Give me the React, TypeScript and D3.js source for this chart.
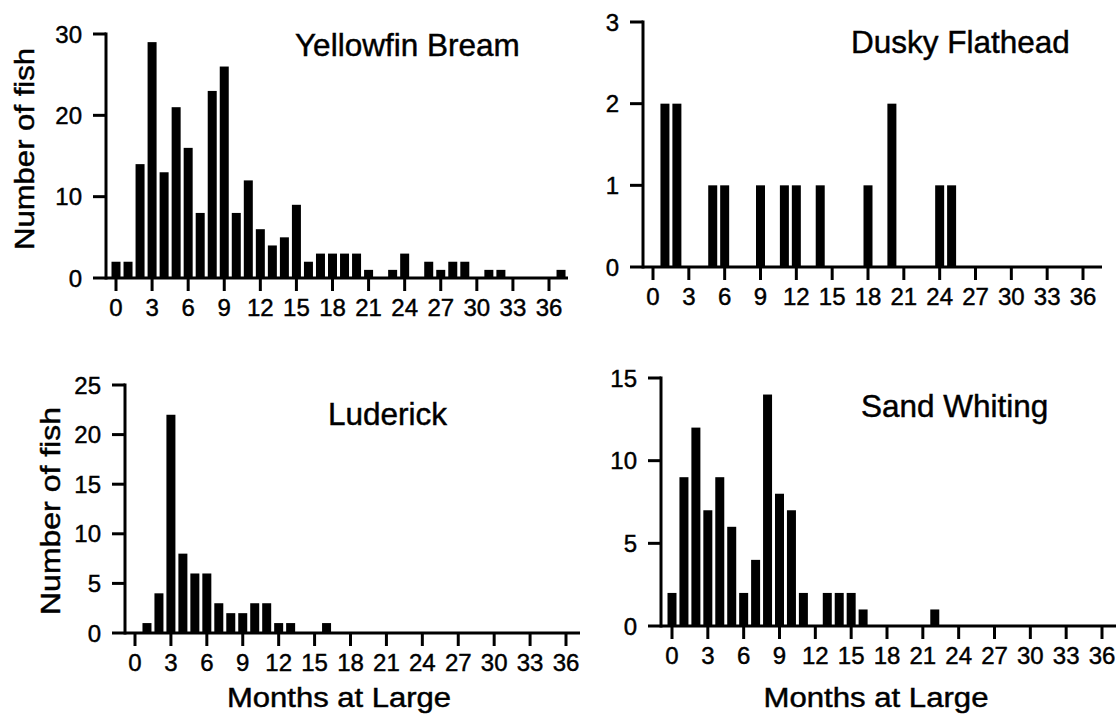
import React from "react";
import * as d3 from "d3";

// Months at large (index = month), number of fish
const breamCounts = [2, 2, 14, 29, 13, 21, 16, 8, 23, 26, 8, 12, 6, 4, 5, 9, 2, 3, 3, 3, 3, 1, 0, 1, 3, 0, 2, 1, 2, 2, 0, 1, 1, 0, 0, 0, 0, 1];
const flatheadCounts = [0, 2, 2, 0, 0, 1, 1, 0, 0, 1, 0, 1, 1, 0, 1, 0, 0, 0, 1, 0, 2, 0, 0, 0, 1, 1];
const luderickCounts = [0, 1, 4, 22, 8, 6, 6, 3, 2, 2, 3, 3, 1, 1, 0, 0, 1];
const whitingCounts = [2, 9, 12, 7, 9, 6, 2, 4, 14, 8, 7, 2, 0, 2, 2, 2, 1, 0, 0, 0, 0, 0, 1];

const monthTicks = [0, 3, 6, 9, 12, 15, 18, 21, 24, 27, 30, 33, 36];
const breamTicks = [0, 10, 20, 30];
const flatheadTicks = [0, 1, 2, 3];
const luderickTicks = [0, 5, 10, 15, 20, 25];
const whitingTicks = [0, 5, 10, 15];

const titles = ["Yellowfin Bream", "Dusky Flathead", "Luderick", "Sand Whiting"];
const yTitle = "Number of fish";
const xTitle = "Months at Large";

const FONT = "'Liberation Sans', Arial, Helvetica, sans-serif";

type PanelProps = {
  counts: number[];
  yTicks: number[];
  title: string;
  axisX: number;
  y0: number;
  yTopPx: number;
  x0: number;
  x36: number;
  xEnd: number;
  titleX: number;
  titleY: number;
  showYTitle?: { x: number; y: number; len: number };
  showXTitle?: { x: number; y: number; len: number };
};

const textStyle = { stroke: "#000", strokeWidth: 0.45 };

function Panel(p: PanelProps) {
  const yMax = p.yTicks[p.yTicks.length - 1];
  const y = d3.scaleLinear().domain([0, yMax]).range([p.y0, p.yTopPx]);
  const x = d3.scaleLinear().domain([0, 36]).range([p.x0, p.x36]);
  const barW = 9;
  const bars = p.counts.map((v, i) => ({ m: i, v })).filter((d) => d.v > 0);
  const sw = 3;
  return (
    <g>
      {bars.map((d) => (
        <rect
          key={d.m}
          x={x(d.m) - barW / 2}
          y={y(d.v)}
          width={barW}
          height={p.y0 - y(d.v)}
          fill="#000"
        />
      ))}
      {/* y axis */}
      <line x1={p.axisX} x2={p.axisX} y1={y(yMax) - 1.5} y2={p.y0 + 1.5} stroke="#000" strokeWidth={sw} />
      {p.yTicks.map((t) => (
        <g key={t}>
          <line x1={p.axisX - 13} x2={p.axisX} y1={y(t)} y2={y(t)} stroke="#000" strokeWidth={sw} />
          <text
            x={p.axisX - 24}
            y={y(t) + 8.5}
            textAnchor="end"
            fontSize={24}
            fontFamily={FONT}
            fill="#000"
            style={textStyle}
          >
            {t}
          </text>
        </g>
      ))}
      {/* x axis */}
      <line x1={p.axisX} x2={p.xEnd} y1={p.y0} y2={p.y0} stroke="#000" strokeWidth={sw} />
      {monthTicks.map((t) => (
        <g key={t}>
          <line x1={x(t)} x2={x(t)} y1={p.y0} y2={p.y0 + 13} stroke="#000" strokeWidth={sw} />
          <text
            x={x(t)}
            y={p.y0 + 38}
            textAnchor="middle"
            fontSize={24}
            fontFamily={FONT}
            fill="#000"
            style={textStyle}
          >
            {t}
          </text>
        </g>
      ))}
      <text x={p.titleX} y={p.titleY} fontSize={31.5} fontFamily={FONT} fill="#000" style={textStyle}>
        {p.title}
      </text>
      {p.showYTitle && (
        <text
          transform={`translate(${p.showYTitle.x},${p.showYTitle.y}) rotate(-90)`}
          textAnchor="middle"
          fontSize={27}
          fontFamily={FONT}
          fill="#000"
          style={textStyle}
          textLength={p.showYTitle.len}
          lengthAdjust="spacingAndGlyphs"
        >
          {yTitle}
        </text>
      )}
      {p.showXTitle && (
        <text
          x={p.showXTitle.x}
          y={p.showXTitle.y}
          textAnchor="middle"
          fontSize={27}
          fontFamily={FONT}
          fill="#000"
          style={textStyle}
          textLength={p.showXTitle.len}
          lengthAdjust="spacingAndGlyphs"
        >
          {xTitle}
        </text>
      )}
    </g>
  );
}

export default function App() {
  return (
    <svg
      width={1116}
      height={716}
      style={{ position: "absolute", left: 0, top: 0, background: "#fff" }}
    >
      <rect x={0} y={0} width={1116} height={716} fill="#fff" />
      <Panel
        counts={breamCounts}
        yTicks={breamTicks}
        title={titles[0]}
        axisX={106}
        y0={278}
        yTopPx={34}
        x0={116}
        x36={549}
        xEnd={568}
        titleX={295}
        titleY={56}
        showYTitle={{ x: 34, y: 149, len: 202 }}
      />
      <Panel
        counts={flatheadCounts}
        yTicks={flatheadTicks}
        title={titles[1]}
        axisX={643}
        y0={267}
        yTopPx={22}
        x0={653}
        x36={1083}
        xEnd={1102}
        titleX={851}
        titleY={53}
      />
      <Panel
        counts={luderickCounts}
        yTicks={luderickTicks}
        title={titles[2]}
        axisX={125}
        y0={633}
        yTopPx={385}
        x0={135}
        x36={566}
        xEnd={580}
        titleX={328}
        titleY={425}
        showYTitle={{ x: 60, y: 511, len: 208 }}
        showXTitle={{ x: 339, y: 707, len: 224 }}
      />
      <Panel
        counts={whitingCounts}
        yTicks={whitingTicks}
        title={titles[3]}
        axisX={661}
        y0={626}
        yTopPx={378}
        x0={672}
        x36={1102}
        xEnd={1116}
        titleX={861}
        titleY={417}
        showXTitle={{ x: 876, y: 707, len: 225 }}
      />
    </svg>
  );
}
